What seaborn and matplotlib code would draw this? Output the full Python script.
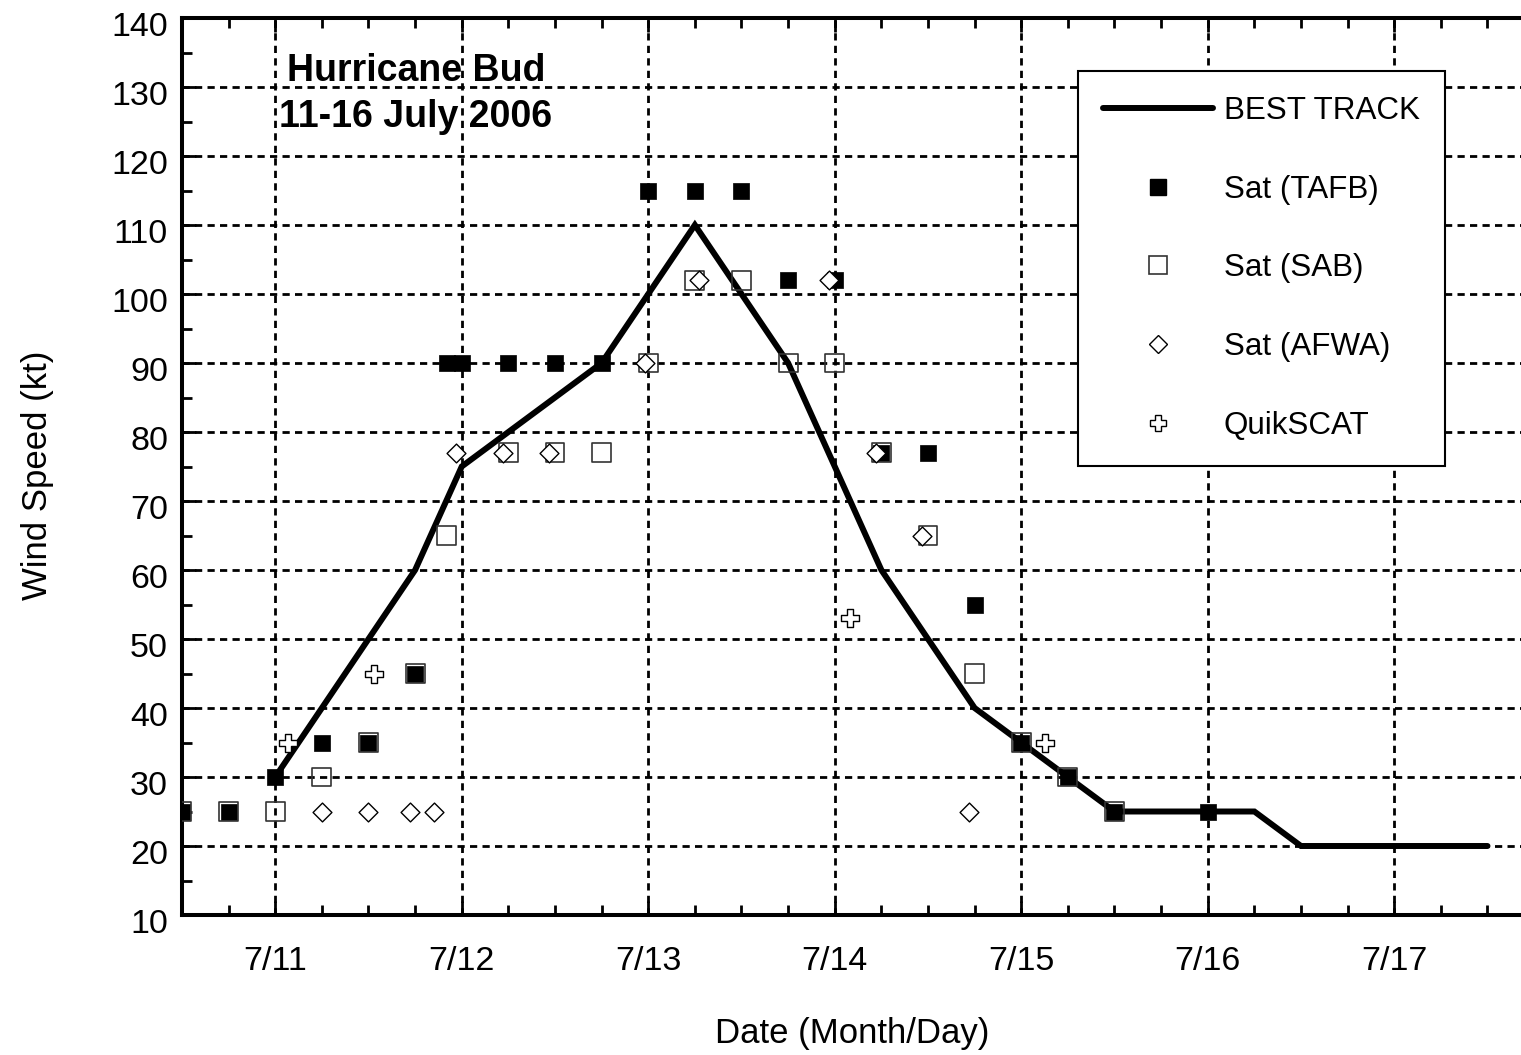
import matplotlib
matplotlib.use("Agg")
import matplotlib.pyplot as plt
import matplotlib.transforms as mtransforms
from matplotlib.lines import Line2D
from matplotlib.ticker import MultipleLocator, FixedLocator
import seaborn as sns
import pandas as pd

# ---------------- data (day of July 2006, UTC fraction) ----------------
bt_time = [11.0, 11.25, 11.5, 11.75, 12.0, 12.25, 12.5, 12.75, 13.0, 13.25, 13.5,
           13.75, 14.0, 14.25, 14.5, 14.75, 15.0, 15.25, 15.5, 15.75, 16.0, 16.25,
           16.5, 16.75, 17.0, 17.25, 17.5]
bt_wind = [30, 40, 50, 60, 75, 80, 85, 90, 100, 110, 100, 90, 75, 60, 50, 40, 35,
           30, 25, 25, 25, 25, 20, 20, 20, 20, 20]

tafb_time = [10.5, 10.75, 11.0, 11.25, 11.5, 11.75, 11.92, 12.0, 12.25, 12.5, 12.75,
             13.0, 13.25, 13.5, 13.75, 14.0, 14.25, 14.5, 14.75, 15.0, 15.25, 15.5, 16.0]
tafb_wind = [25, 25, 30, 35, 35, 45, 90, 90, 90, 90, 90, 115, 115, 115, 102, 102,
             77, 77, 55, 35, 30, 25, 25]

sab_time = [10.5, 10.75, 11.0, 11.25, 11.5, 11.75, 11.92, 12.25, 12.5, 12.75, 13.0,
            13.25, 13.5, 13.75, 14.0, 14.25, 14.5, 14.75, 15.0, 15.25, 15.5]
sab_wind = [25, 25, 25, 30, 35, 45, 65, 77, 77, 77, 90, 102, 102, 90, 90, 77, 65,
            45, 35, 30, 25]

afwa_time = [11.25, 11.5, 11.72, 11.85, 11.97, 12.22, 12.47, 12.98, 13.27, 13.97,
             14.22, 14.47, 14.72]
afwa_wind = [25, 25, 25, 25, 77, 77, 77, 90, 102, 102, 77, 65, 25]

qs_time = [11.07, 11.53, 14.08, 15.13]
qs_wind = [35, 45, 53, 35]

day_ticks = [11, 12, 13, 14, 15, 16, 17]
day_labels = ["7/11", "7/12", "7/13", "7/14", "7/15", "7/16", "7/17"]

title_text = "Hurricane Bud\n11-16 July 2006"
xlabel_text = "Date (Month/Day)"
ylabel_text = "Wind Speed (kt)"
legend_labels = ["BEST TRACK", "Sat (TAFB)", "Sat (SAB)", "Sat (AFWA)", "QuikSCAT"]

# ---------------- figure ----------------
sns.set_theme(style="ticks")
plt.rcParams["font.family"] = ["Liberation Sans", "DejaVu Sans"]
for key in ["text.color", "axes.labelcolor", "xtick.color", "ytick.color",
            "axes.edgecolor"]:
    plt.rcParams[key] = "black"

W, H = 1521, 1055
fig = plt.figure(figsize=(W / 100, H / 100), dpi=100)
fig.patch.set_facecolor("white")

left_px, right_px, top_px, bottom_px = 182, 1535, 18, 915
ax = fig.add_axes([left_px / W, 1 - bottom_px / H,
                   (right_px - left_px) / W, (bottom_px - top_px) / H])
ax.set_facecolor("white")

df_bt = pd.DataFrame({"t": bt_time, "v": bt_wind})
df_tafb = pd.DataFrame({"t": tafb_time, "v": tafb_wind})
df_sab = pd.DataFrame({"t": sab_time, "v": sab_wind})
df_afwa = pd.DataFrame({"t": afwa_time, "v": afwa_wind})
df_qs = pd.DataFrame({"t": qs_time, "v": qs_wind})

sns.lineplot(data=df_bt, x="t", y="v", ax=ax, color="black", linewidth=4.3,
             zorder=3, solid_joinstyle="miter")
sns.scatterplot(data=df_tafb, x="t", y="v", ax=ax, marker="s", s=125,
                color="black", edgecolor="black", linewidth=0.5, zorder=4)
sns.scatterplot(data=df_sab, x="t", y="v", ax=ax, marker="s", s=185,
                facecolor="none", edgecolor="#333333", linewidth=1.2, zorder=5)
sns.scatterplot(data=df_afwa, x="t", y="v", ax=ax, marker="D", s=92,
                facecolor="white", edgecolor="black", linewidth=1.0, zorder=6)
sns.scatterplot(data=df_qs, x="t", y="v", ax=ax, marker="P", s=150,
                facecolor="white", edgecolor="black", linewidth=1.0, zorder=6)

ax.set_xlim(10.5, 10.5 + (right_px - left_px) / 186.5)
ax.set_ylim(10, 140)
ax.set_xlabel("")
ax.set_ylabel("")

ax.xaxis.set_major_locator(FixedLocator(day_ticks))
ax.set_xticklabels(day_labels)
ax.xaxis.set_minor_locator(MultipleLocator(0.25))
ax.yaxis.set_major_locator(MultipleLocator(10))
ax.yaxis.set_minor_locator(MultipleLocator(5))

ax.grid(True, which="major", color="black", linestyle=(0, (2.6, 1.9)),
        linewidth=2.0, zorder=1)
ax.set_axisbelow(True)

for side in ["left", "bottom", "top"]:
    ax.spines[side].set_linewidth(2.9)
    ax.spines[side].set_color("black")
ax.spines["right"].set_visible(False)

ax.tick_params(which="both", direction="in", top=True, right=False,
               color="black", labelcolor="black", width=2.0)
ax.tick_params(which="major", length=10)
ax.tick_params(which="minor", length=7)
ax.tick_params(axis="x", which="major", labelsize=24.5, pad=22)
ax.tick_params(axis="y", which="major", labelsize=24.5, pad=10)

off = mtransforms.ScaledTranslation(0, -6 / 100, fig.dpi_scale_trans)
for lab in ax.get_yticklabels():
    lab.set_transform(lab.get_transform() + off)

# title block
fig.text(416 / W, 1 - 94 / H, title_text, ha="center", va="center",
         fontsize=27, fontweight="bold", linespacing=1.38, color="black",
         zorder=10)

# axis labels
fig.text(852 / W, 1 - 1033 / H, xlabel_text, ha="center", va="center",
         fontsize=25, color="black")
fig.text(38 / W, 1 - 475 / H, ylabel_text, ha="center", va="center",
         rotation=90, fontsize=25, color="black")

# legend
handles = [
    Line2D([], [], color="black", linewidth=4.3),
    Line2D([], [], linestyle="none", marker="s", markersize=11.2,
           markerfacecolor="black", markeredgecolor="black"),
    Line2D([], [], linestyle="none", marker="s", markersize=13.5,
           markerfacecolor="white", markeredgecolor="#333333", markeredgewidth=1.2),
    Line2D([], [], linestyle="none", marker="D", markersize=9.6,
           markerfacecolor="white", markeredgecolor="black", markeredgewidth=1.0),
    Line2D([], [], linestyle="none", marker="P", markersize=12.2,
           markerfacecolor="white", markeredgecolor="black", markeredgewidth=1.0),
]
leg = ax.legend(handles, legend_labels, loc="upper left",
                bbox_to_anchor=(1078 / W, 1 - 71 / H),
                bbox_transform=fig.transFigure, borderaxespad=0,
                fontsize=22.6, frameon=True, fancybox=False, framealpha=1,
                edgecolor="black", handlelength=3.5, handletextpad=0.35,
                labelspacing=1.55, borderpad=0.8, numpoints=1)
leg.get_frame().set_linewidth(1.5)
for t in leg.get_texts():
    t.set_color("black")
leg.set_zorder(20)

fig.savefig("out.png", dpi=100, facecolor="white")
